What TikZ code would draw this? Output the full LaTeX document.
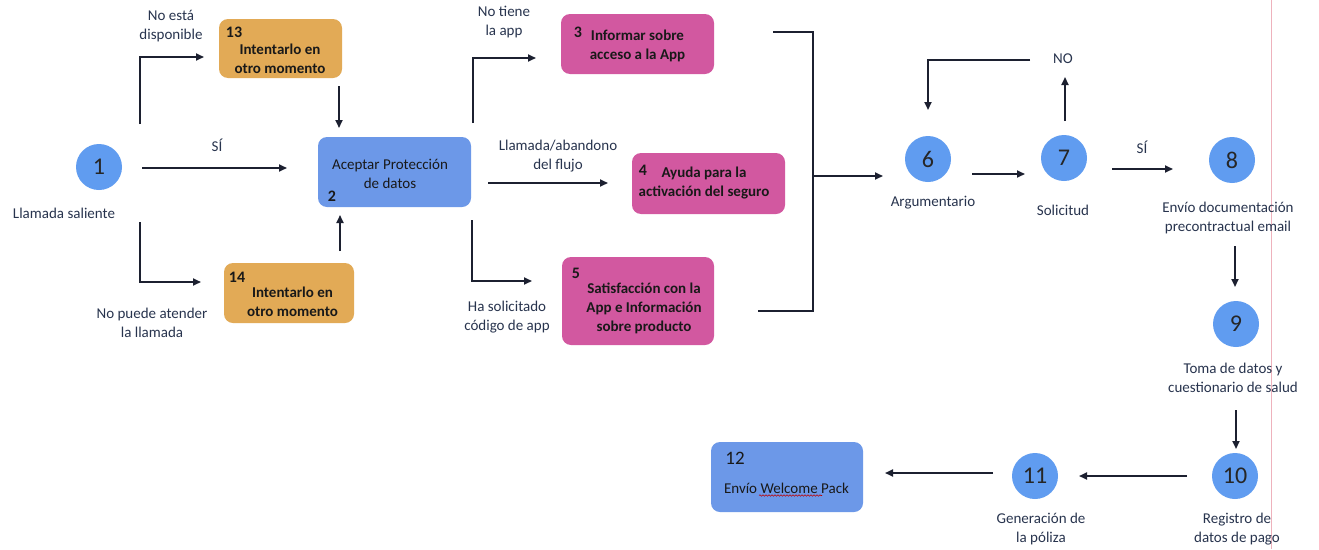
\documentclass[tikz,border=0pt]{standalone}
\usepackage{fontspec}
\setmainfont{Carlito}
\usetikzlibrary{arrows.meta,decorations.pathmorphing}

\definecolor{cblue}{RGB}{96,156,240}
\definecolor{bblue}{RGB}{108,152,232}
\definecolor{cpink}{RGB}{210,88,160}
\definecolor{corange}{RGB}{226,170,86}
\definecolor{linec}{RGB}{28,32,48}
\definecolor{lblc}{RGB}{40,52,78}
\definecolor{marginc}{RGB}{238,178,188}

\tikzset{
  num/.style={circle, fill=cblue, minimum size=46pt, inner sep=0pt, text=black!85,
    font=\fontsize{24}{24}\selectfont},
  card/.style={rounded corners=9pt, inner sep=0pt},
  bluecard/.style={card, fill=bblue},
  pinkcard/.style={card, fill=cpink},
  orangecard/.style={card, fill=corange},
  cardtxt/.style={align=center, text=black!90, inner sep=0pt,
    font=\fontsize{15}{19}\selectfont\bfseries},
  cardtxtr/.style={align=center, text=black!90, inner sep=0pt,
    font=\fontsize{15}{19}\selectfont},
  cardnum/.style={text=black!90, inner sep=0pt, font=\fontsize{16}{16}\selectfont\bfseries},
  lbl/.style={align=center, text=lblc, inner sep=0pt, font=\fontsize{15}{19}\selectfont},
  conn/.style={draw=linec, line width=1.8pt},
  arr/.style={conn, -{Triangle[length=8pt,width=7pt]}},
}

\begin{document}
\begin{tikzpicture}[x=1pt,y=-1pt]
\useasboundingbox (0,0) rectangle (1319,549);
\fill[white] (0,0) rectangle (1319,549);

% page margin line
\coordinate (mt) at (1271,0);
\coordinate (mb) at (1271,549);
\draw[marginc, line width=0.8pt] (mt) -- (mb);

% ---------- circles ----------
\node[num] (c1)  at (99,167)   {1};
\node[num] (c6)  at (928,159)  {6};
\node[num] (c7)  at (1064,158) {7};
\node[num] (c8)  at (1232,160) {8};
\node[num] (c9)  at (1236,324) {9};
\node[num] (c10) at (1235,476) {10};
\node[num] (c11) at (1035,476) {11};

\node[lbl] (l1)  at (64,213)    {Llamada saliente};
\node[lbl] (l6)  at (933,203)   {Argumentario};
\node[lbl] (l7)  at (1063,210)  {Solicitud};
\node[lbl] (l8)  at (1228,217.5){Envío documentación\\precontractual email};
\node[lbl] (l9)  at (1233,378)  {Toma de datos y\\cuestionario de salud};
\node[lbl] (l10) at (1237,529)  {Registro de\\datos de pago};
\node[lbl] (l11) at (1041,529)  {Generación de\\la póliza};

% ---------- cards ----------
\node[orangecard, minimum width=123pt, minimum height=59pt] (b13) at (280.5,48.5) {};
\node[cardtxt] (b13t) at (280,58.5) {Intentarlo en\\otro momento};
\node[cardnum] (b13n) at (234,32) {13};

\node[orangecard, minimum width=130pt, minimum height=60pt] (b14) at (289,293) {};
\node[cardtxt] (b14t) at (292.5,301.5) {Intentarlo en\\otro momento};
\node[cardnum] (b14n) at (237,277) {14};

\node[bluecard, minimum width=153pt, minimum height=70pt] (b2) at (394.5,172) {};
\node[cardtxtr] (b2t) at (390,173.5) {Aceptar Protección\\de datos};
\node[cardnum] (b2n) at (332,196) {2};

\node[pinkcard, minimum width=153pt, minimum height=60pt] (b3) at (637.5,44) {};
\node[cardtxt] (b3t) at (637.5,46) {Informar sobre\\acceso a la App};
\node[cardnum] (b3n) at (578,32) {3};

\node[pinkcard, minimum width=153pt, minimum height=61pt] (b4) at (708.5,183.5) {};
\node[cardtxt] (b4t) at (704,183.5) {Ayuda para la\\activación del seguro};
\node[cardnum] (b4n) at (643,170) {4};

\node[pinkcard, minimum width=152pt, minimum height=88pt] (b5) at (638,301) {};
\node[cardtxt] (b5t) at (644,308) {Satisfacción con la\\App e Información\\sobre producto};
\node[cardnum] (b5n) at (576,273) {5};

\node[bluecard, minimum width=152pt, minimum height=70pt] (b12) at (787,477) {};
\node[cardtxtr] (b12t) at (786.5,488) {Envío Welcome Pack};
\node[text=black!90, inner sep=0pt, font=\fontsize{19}{19}\selectfont] (b12n) at (735,458) {12};
\coordinate (wl) at (759,495.5);
\coordinate (wr) at (822,495.5);
\draw[red!75!black, line width=0.6pt, decorate,
      decoration={snake, amplitude=0.7pt, segment length=3pt}] (wl) -- (wr);

% ---------- connector labels ----------
\node[lbl] (q1)  at (171,26.5)  {No está\\disponible};
\node[lbl] (q2)  at (217,145)   {SÍ};
\node[lbl] (q3)  at (152,322.5) {No puede atender\\la llamada};
\node[lbl] (q4)  at (504,22)    {No tiene\\la app};
\node[lbl] (q5)  at (558,156)   {Llamada/abandono\\del flujo};
\node[lbl] (q6)  at (507,317)   {Ha solicitado\\código de app};
\node[lbl] (q7)  at (1063,59)   {NO};
\node[lbl] (q8)  at (1142,147)  {SÍ};

% ---------- connector end points ----------
\coordinate (a1s) at (140,124);  \coordinate (a1e) at (204,57);
\coordinate (a2s) at (142,168);  \coordinate (a2e) at (287,168);
\coordinate (a3s) at (140,222);  \coordinate (a3e) at (201,282);
\coordinate (a4s) at (339,86);   \coordinate (a4e) at (339,128);
\coordinate (a5s) at (340,251);  \coordinate (a5e) at (340,215);
\coordinate (a6s) at (473,123);  \coordinate (a6e) at (536,58);
\coordinate (a7s) at (488,183);  \coordinate (a7e) at (608,183);
\coordinate (a8s) at (472,220);  \coordinate (a8e) at (532,281);
\coordinate (m3)  at (773,32);   \coordinate (m5) at (758,311);
\coordinate (mj)  at (813,176);  \coordinate (a9e) at (883,176);
\coordinate (a10s) at (972,174); \coordinate (a10e) at (1025,174);
\coordinate (a11s) at (1065,121);\coordinate (a11e) at (1065,77);
\coordinate (a12s) at (1030,60); \coordinate (a12e) at (928,110);
\coordinate (a13s) at (1112,169);\coordinate (a13e) at (1173,169);
\coordinate (a14s) at (1235,246);\coordinate (a14e) at (1235,287);
\coordinate (a15s) at (1236,410);\coordinate (a15e) at (1236,449);
\coordinate (a16s) at (1187,476);\coordinate (a16e) at (1079,476);
\coordinate (a17s) at (993,473); \coordinate (a17e) at (885,473);

% ---------- connectors ----------
\draw[arr] (a1s) |- (a1e);
\draw[arr] (a2s) -- (a2e);
\draw[arr] (a3s) |- (a3e);
\draw[arr] (a4s) -- (a4e);
\draw[arr] (a5s) -- (a5e);
\draw[arr] (a6s) |- (a6e);
\draw[arr] (a7s) -- (a7e);
\draw[arr] (a8s) |- (a8e);
\draw[conn] (m3) -| (mj) |- (m5);
\draw[arr] (mj) -- (a9e);
\draw[arr] (a10s) -- (a10e);
\draw[arr] (a11s) -- (a11e);
\draw[arr] (a12s) -| (a12e);
\draw[arr] (a13s) -- (a13e);
\draw[arr] (a14s) -- (a14e);
\draw[arr] (a15s) -- (a15e);
\draw[arr] (a16s) -- (a16e);
\draw[arr] (a17s) -- (a17e);
\end{tikzpicture}
\end{document}
